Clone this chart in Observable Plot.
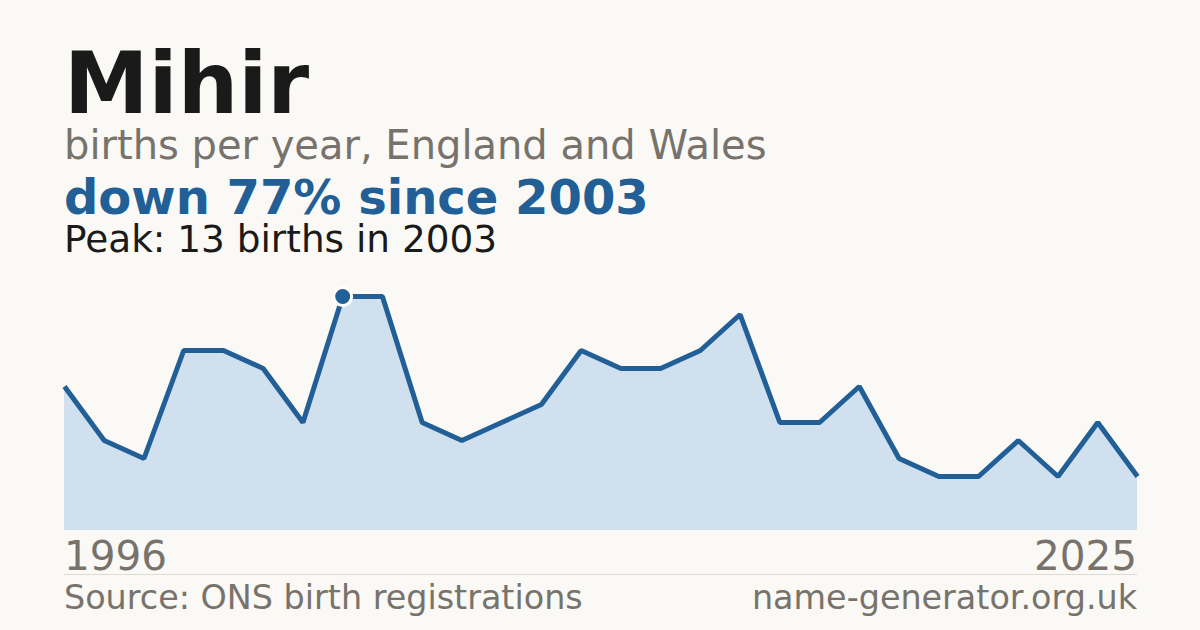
<!DOCTYPE html>
<html>
<head>
<meta charset="utf-8">
<script src="https://cdn.jsdelivr.net/npm/d3@7"></script>
<script src="https://cdn.jsdelivr.net/npm/@observablehq/plot@0.6"></script>
<style>
  html, body { margin: 0; padding: 0; }
  body { width: 1200px; height: 630px; background: #faf9f5; position: relative; overflow: hidden;
         font-family: "DejaVu Sans", sans-serif; }
  .t { position: absolute; line-height: 0.8; white-space: nowrap; }
  #chart { position: absolute; left: 0; top: 280px; }
  #rule { position: absolute; left: 64px; width: 1073px; top: 574px; height: 1px; background: #dedbd3; }
</style>
</head>
<body>
<div class="t" id="title" style="left:64px; top:49.6px; font-size:85px; font-weight:bold; color:#1a1a1a;"></div>
<div class="t" id="subtitle" style="left:64px; top:129.2px; font-size:40px; color:#77736c;"></div>
<div class="t" id="headline" style="left:64px; top:178.2px; font-size:48px; font-weight:bold; color:#215f96;"></div>
<div class="t" id="peak" style="left:64px; top:225.1px; font-size:37.4px; color:#1a1a1a;"></div>
<div id="chart"></div>
<div class="t" id="yearStart" style="left:64px; top:539.8px; font-size:40.5px; color:#77736c;"></div>
<div class="t" id="yearEnd" style="right:63px; top:539.8px; font-size:40.5px; color:#77736c;"></div>
<div id="rule"></div>
<div class="t" id="source" style="left:64px; top:585.1px; font-size:33.4px; color:#77736c;"></div>
<div class="t" id="site" style="right:63px; top:585.1px; font-size:33.4px; color:#77736c;"></div>
<script>
const nameLabel = "Mihir";
const subtitleText = "births per year, England and Wales";
const headlineText = "down 77% since 2003";
const peakText = "Peak: 13 births in 2003";
const tickLabels = ["1996", "2025"];
const sourceText = "Source: ONS birth registrations";
const siteText = "name-generator.org.uk";

// births per plotted point, left to right
const births = [8, 5, 4, 10, 10, 9, 6, 13, 13, 6, 5, 6, 7, 10, 9, 9, 10, 12, 6, 6, 8, 4, 3, 3, 5, 3, 6, 3];
const peakIndex = 7;

document.getElementById("title").textContent = nameLabel;
document.getElementById("subtitle").textContent = subtitleText;
document.getElementById("headline").textContent = headlineText;
document.getElementById("peak").textContent = peakText;
document.getElementById("yearStart").textContent = tickLabels[0];
document.getElementById("yearEnd").textContent = tickLabels[1];
document.getElementById("source").textContent = sourceText;
document.getElementById("site").textContent = siteText;

const data = births.map((v, i) => ({i, v}));

const chart = Plot.plot({
  width: 1200,
  height: 260,
  marginLeft: 64,
  marginRight: 63,
  marginTop: 16,
  marginBottom: 10,
  x: {domain: [0, births.length - 1], axis: null},
  y: {domain: [0, 13], axis: null},
  style: {background: "transparent", overflow: "visible"},
  marks: [
    Plot.areaY(data, {x: "i", y: "v", fill: "#d0e0ef"}),
    Plot.lineY(data, {x: "i", y: "v", stroke: "#215f96", strokeWidth: 5, strokeLinejoin: "miter", strokeLinecap: "butt"}),
    Plot.dot([data[peakIndex]], {x: "i", y: "v", r: 9, fill: "#215f96", stroke: "#ffffff", strokeWidth: 3})
  ]
});
document.getElementById("chart").appendChild(chart);
</script>
</body>
</html>
